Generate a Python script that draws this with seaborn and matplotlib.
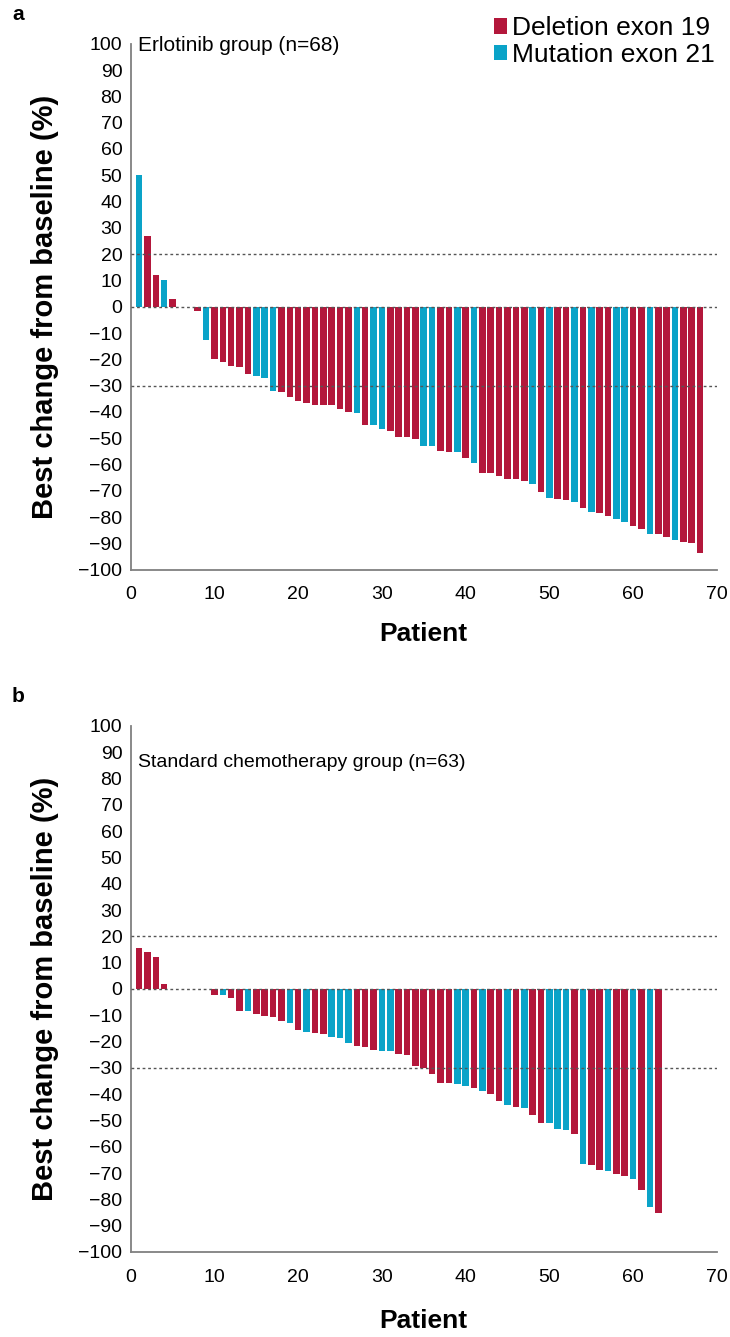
import numpy as np
import pandas as pd
import matplotlib
matplotlib.use("Agg")
import matplotlib.pyplot as plt
import seaborn as sns

# best change from baseline (%), one value per patient, sorted as in the figure
erlotinib_change = [50, 27, 12, 10, 3, 0, 0, -1.5, -12.6, -19.9,
                    -20.9, -22.4, -22.8, -25.6, -26.2, -27.1, -31.9, -32.3, -34.2, -35.9,
                    -36.8, -37.2, -37.3, -37.3, -38.9, -39.9, -40.5, -44.8, -45.1, -46.4,
                    -47.3, -49.5, -49.5, -50.4, -52.9, -52.9, -54.8, -55.1, -55.4, -57.5,
                    -59.4, -63.1, -63.1, -64.4, -65.4, -65.4, -66.3, -67.5, -70.6, -72.6,
                    -73.3, -73.5, -74.4, -76.4, -77.9, -78.5, -79.4, -80.6, -81.9, -83.5,
                    -84.4, -86.3, -86.4, -87.6, -88.8, -89.4, -90.0, -93.5]
# D = deletion exon 19, M = mutation exon 21
erlotinib_type = list("MDDMDDDDMDDDDDMMMDDDDDDDDDMDMMDDDDMMDDMDMDDDDDDMDMDDMDMDDMMDDMDDMDDD")

chemo_change = [15.6, 14, 12.3, 1.9, 0, 0, 0, 0, 0, -2.2,
                -2.2, -3.5, -8.3, -8.3, -9.7, -10.2, -10.8, -12.1, -12.8, -15.6,
                -16.2, -16.8, -17.2, -18.1, -18.8, -20.7, -21.5, -22.2, -23.2, -23.4,
                -23.4, -24.7, -25.0, -29.4, -30.0, -32.5, -35.6, -35.6, -36.2, -36.9,
                -37.5, -38.7, -39.9, -42.7, -44.3, -45.0, -45.4, -48.1, -50.8, -51.1,
                -53.3, -53.5, -55.2, -66.4, -67.0, -68.9, -69.1, -70.4, -71.0, -72.2,
                -76.3, -82.8, -85.1]
chemo_type = list("DDDDDDDDDDMDDMDDDDMDMDDMMMDDDMMDDDDDDDMMDMDDMDMDDMMMDMDDMDDMDMD")

TYPE_NAMES = {"D": "Deletion exon 19", "M": "Mutation exon 21"}
PALETTE = {"Deletion exon 19": "#b3173b", "Mutation exon 21": "#0aa3c8"}
REF_LINES = [20, 0, -30]
GREY = "#808080"

sns.set_style("white")
plt.rcParams["font.family"] = ["Liberation Sans", "DejaVu Sans"]
plt.rcParams["text.color"] = "black"
plt.rcParams["axes.labelcolor"] = "black"


def draw_panel(ax, change, types, title, legend):
    df = pd.DataFrame({
        "patient": np.arange(1, len(change) + 1),
        "change": change,
        "mutation": [TYPE_NAMES[t] for t in types],
    })
    sns.barplot(data=df, x="patient", y="change", hue="mutation",
                hue_order=list(PALETTE), palette=PALETTE, native_scale=True,
                dodge=False, width=0.78, saturation=1, errorbar=None,
                linewidth=0, legend=legend, ax=ax)
    for y in REF_LINES:
        ax.axhline(y, color="#555555", lw=1, ls=(0, (2, 2)), zorder=3)

    ax.set_xlim(0, 70)
    ax.set_ylim(-100, 100)
    ax.set_xticks(range(0, 71, 10))
    ax.set_yticks(range(-100, 101, 10))
    ax.tick_params(axis="both", labelsize=14, colors=GREY, labelcolor="black", width=1.3)
    ax.tick_params(axis="y", length=5, pad=1)
    ax.tick_params(axis="x", length=8, pad=4)
    for side in ["top", "right"]:
        ax.spines[side].set_visible(False)
    for side in ["left", "bottom"]:
        ax.spines[side].set_color(GREY)
        ax.spines[side].set_linewidth(1.3)

    ax.set_xlabel("Patient", fontsize=19, fontweight="bold")
    ax.set_ylabel("Best change from baseline (%)", fontsize=21, fontweight="bold")
    ax.xaxis.set_label_coords(0.5, -0.1)
    ax.yaxis.set_label_coords(-0.122, 0.5)
    ax.text(0.012, 0.997, title, transform=ax.transAxes, ha="left", va="center", fontsize=15)


fig = plt.figure(figsize=(7.3, 13.37), dpi=100)
ax_a = fig.add_axes([0.179, 0.5739, 0.803, 0.3934])
ax_b = fig.add_axes([0.179, 0.0636, 0.803, 0.3934])

draw_panel(ax_a, erlotinib_change, erlotinib_type, "Erlotinib group (n=68)", True)
draw_panel(ax_b, chemo_change, chemo_type, "Standard chemotherapy group (n=63)", False)
ax_b.texts[-1].set_position((0.012, 0.93))
ax_b.texts[-1].set_fontsize(14)
ax_b.xaxis.set_label_coords(0.5, -0.108)

sns.move_legend(ax_a, "upper right", bbox_to_anchor=(0.997, 1.052), title=None,
                frameon=False, fontsize=19, handlelength=0.5, handleheight=0.5,
                handletextpad=0.2, labelspacing=0.1, borderpad=0, borderaxespad=0)

fig.text(12 / 730, 1 - 15 / 1337, "a", fontsize=15, fontweight="bold", va="center")
fig.text(12 / 730, 1 - 697 / 1337, "b", fontsize=15, fontweight="bold", va="center")

fig.savefig("out.png", dpi=100)
